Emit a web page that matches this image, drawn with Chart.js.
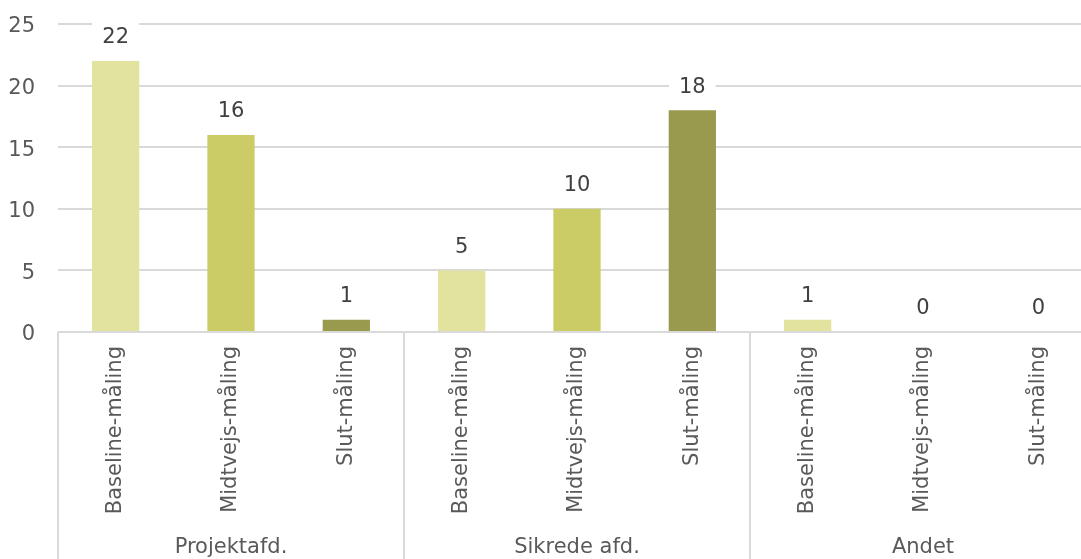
<!DOCTYPE html>
<html>
<head>
<meta charset="utf-8">
<script src="https://cdn.jsdelivr.net/npm/chart.js@4"></script>
<style>
html,body{margin:0;padding:0;background:#fff;overflow:hidden}
#wrap{width:1100px;height:559px;position:relative}
</style>
</head>
<body>
<div id="wrap"><canvas id="c"></canvas></div>
<script>
// data
const groups=['Projektafd.','Sikrede afd.','Andet'];
const phases=['Baseline-måling','Midtvejs-måling','Slut-måling'];
const values=[22,16,1, 5,10,18, 1,0,0];
const yTicks=[0,5,10,15,20,25];
const phaseCol=['#e3e3a0','#cccc66','#9a9a4e'];

const FONT='"DejaVu Sans", Verdana, sans-serif';
const labels=[];groups.forEach(()=>phases.forEach(p=>labels.push(p)));
const colors=values.map((v,i)=>phaseCol[i%3]);

// value labels with white box + group labels and separators
const extras={
  id:'extras',
  afterDatasetsDraw(chart){
    const ctx=chart.ctx;const meta=chart.getDatasetMeta(0);
    ctx.save();
    ctx.font='21px '+FONT;ctx.textAlign='center';ctx.textBaseline='middle';
    meta.data.forEach((b,i)=>{
      const t=String(values[i]);const w=ctx.measureText(t).width+20;
      const y=b.y-24;
      ctx.fillStyle='#fff';ctx.fillRect(b.x-w/2,y-15,w,30);
      ctx.fillStyle='#404040';ctx.fillText(t,b.x,y+1);
    });
    // group separators + names
    const a=chart.chartArea;const cw=(a.right-a.left)/values.length;
    ctx.strokeStyle='#d9d9d9';ctx.lineWidth=2;
    for(let g=0;g<=groups.length;g++){
      const x=Math.round(a.left+g*3*cw);
      ctx.beginPath();ctx.moveTo(x,a.bottom);ctx.lineTo(x,chart.height);ctx.stroke();
    }
    ctx.fillStyle='#595959';
    groups.forEach((g,i)=>ctx.fillText(g,a.left+(i*3+1.5)*cw,548));
    ctx.restore();
  }
};

new Chart(document.getElementById('c'),{
  type:'bar',
  data:{labels:labels,datasets:[{data:values,backgroundColor:colors,barPercentage:0.41,categoryPercentage:1}]},
  options:{
    responsive:true,maintainAspectRatio:false,animation:false,
    layout:{padding:{top:24,right:4,left:0,bottom:0}},
    plugins:{legend:{display:false},tooltip:{enabled:false}},
    scales:{
      x:{grid:{display:false},border:{display:false},
        ticks:{color:'#595959',font:{size:21,family:FONT},maxRotation:90,minRotation:90,padding:6,autoSkip:false},
        afterFit:s=>{s.height=227}},
      y:{min:0,max:25,afterBuildTicks:s=>{s.ticks=yTicks.map(v=>({value:v}))},
        grid:{color:'#d9d9d9',lineWidth:2,drawTicks:true,tickLength:19,tickColor:'transparent'},border:{display:false},
        ticks:{color:'#595959',font:{size:21,family:FONT},padding:4,labelOffset:3},
        afterFit:s=>{s.width=58}}
    }
  },
  plugins:[extras]
});
</script>
</body>
</html>
